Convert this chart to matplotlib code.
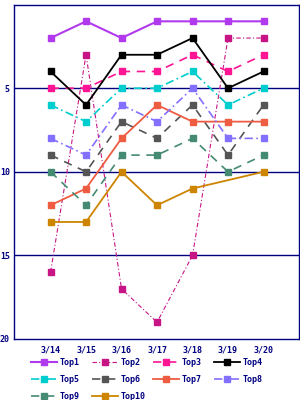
import numpy as np
import matplotlib
matplotlib.use("Agg")
import matplotlib.pyplot as plt

days = ["3/14", "3/15", "3/16", "3/17", "3/18", "3/19", "3/20"]

top1 = [2, 1, 2, 1, 1, 1, 1]
top2 = [16, 3, 17, 19, 15, 2, 2]
top3 = [5, 5, 4, 4, 3, 4, 3]
top4 = [4, 6, 3, 3, 2, 5, 4]
top5 = [6, 7, 5, 5, 4, 6, 5]
top6 = [9, 10, 7, 8, 6, 9, 6]
top7 = [12, 11, 8, 6, 7, 7, 7]
top8 = [8, 9, 6, 7, 5, 8, 8]
top9 = [10, 12, 9, 9, 8, 10, 9]
top10 = [13, 13, 10, 12, 11, None, 10]

series = [
    ("Top1", top1, "#b23aee", "-", 1.5),
    ("Top2", top2, "#c71585", (0, (4, 2, 1, 2)), 0.8),
    ("Top3", top3, "#ff1493", (0, (5, 4)), 1.2),
    ("Top4", top4, "#000000", "-", 1.3),
    ("Top5", top5, "#00cdcd", (0, (5, 2, 1, 2)), 1.2),
    ("Top6", top6, "#555555", (0, (5, 4)), 1.2),
    ("Top7", top7, "#ee5c42", "-", 1.3),
    ("Top8", top8, "#8470ff", (0, (5, 2, 1, 2)), 1.2),
    ("Top9", top9, "#458b74", (0, (5, 4)), 1.2),
    ("Top10", top10, "#cd8500", "-", 1.3),
]

navy = "#000080"
font = {"family": "DejaVu Sans Mono", "size": 6, "weight": "bold"}

fig = plt.figure(figsize=(3, 4), dpi=100)
ax = fig.add_axes([14 / 300, 1 - 339 / 400, 285 / 300, (339 - 4.6) / 400])

for y in [5, 10, 15]:
    ax.axhline(y, color=navy, lw=1, zorder=1)

handles = []
for name, vals, color, ls, lw in series:
    xs = [i for i, v in enumerate(vals) if v is not None]
    ys = [v for v in vals if v is not None]
    h, = ax.plot(xs, ys, color=color, linestyle=ls, lw=lw, marker="s",
                 markersize=3.8, label=name, zorder=3)
    handles.append(h)

ax.set_xlim(-1.03, 7)
ax.set_ylim(20, 0)
ax.set_xticks(range(len(days)))
ax.set_xticklabels(days)
ax.set_yticks([5, 10, 15, 20])
ax.tick_params(length=0, colors=navy, pad=3)
ax.tick_params(axis="x", pad=5)
for lab in ax.get_xticklabels() + ax.get_yticklabels():
    lab.set_fontproperties(font)
    lab.set_color(navy)
for sp in ax.spines.values():
    sp.set_color(navy)
    sp.set_linewidth(1)

# one legend per column so the columns sit on a fixed grid
for c in range(4):
    hs = handles[c::4]
    fig.legend(hs, [h.get_label() for h in hs], loc="upper left",
               bbox_to_anchor=((31 + 61 * c) / 300, 1 - 358 / 400),
               frameon=False, handlelength=3.1, handletextpad=0.35,
               labelspacing=0.95, prop=font, labelcolor=navy,
               borderaxespad=0, borderpad=0)

fig.savefig("out.png", dpi=100)
